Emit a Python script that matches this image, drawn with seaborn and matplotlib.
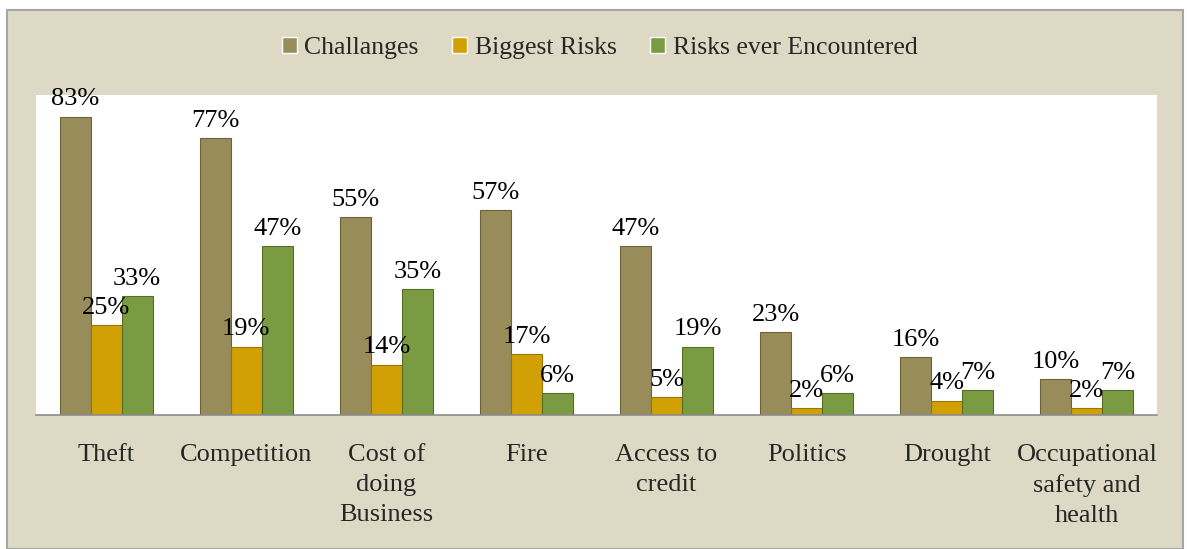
import numpy as np
import pandas as pd
import seaborn as sns
from matplotlib import pyplot as plt
from matplotlib.patches import Rectangle

# %% Data

Categories = ['Theft', 'Competition', 'Cost of\ndoing\nBusiness', 'Fire',
              'Access to\ncredit', 'Politics', 'Drought',
              'Occupational\nsafety and\nhealth']
Challanges = [83, 77, 55, 57, 47, 23, 16, 10]
BiggestRisks = [25, 19, 14, 17, 5, 2, 4, 2]
RisksEncountered = [33, 47, 35, 6, 19, 6, 7, 7]
SeriesNames = ['Challanges', 'Biggest Risks', 'Risks ever Encountered']

dfData = pd.DataFrame({'Category': Categories * 3,
                       'Series': np.repeat(SeriesNames, len(Categories)),
                       'Value': Challanges + BiggestRisks + RisksEncountered})

SeriesColors = {'Challanges': '#988d5a',
                'Biggest Risks': '#d0a005',
                'Risks ever Encountered': '#7b9b42'}
EdgeColors = ['#6b6338', '#9a7500', '#566e2a']
BgColor = '#ddd9c4'

# %% Plot

sns.set_style('white')
plt.rcParams['font.family'] = ['Liberation Serif', 'DejaVu Serif']

fig = plt.figure(figsize=(11.87, 5.49), dpi=100, facecolor='white')
fig.patches.append(Rectangle((7 / 1187, 0), 1176 / 1187, 539 / 549,
                             transform=fig.transFigure, facecolor=BgColor,
                             edgecolor='#a6a6a6', linewidth=1.5, zorder=-1))
ax = fig.add_axes([36 / 1187, 1 - 415 / 549, 1121 / 1187, 320 / 549])

sns.barplot(data=dfData, x='Category', y='Value', hue='Series',
            palette=SeriesColors, width=0.663, gap=0, ax=ax,
            saturation=1, legend=True)

for cont, ec in zip(ax.containers, EdgeColors):
    for bar in cont:
        bar.set_edgecolor(ec)
        bar.set_linewidth(0.8)
    ax.bar_label(cont, labels=[f'{v:.0f}%' for v in cont.datavalues],
                 padding=4.5, fontsize=19, color='black')

ax.set_ylim(0, 89)
ax.set_xlim(-0.5, len(Categories) - 0.5)
ax.set_xlabel('')
ax.set_ylabel('')
ax.set_yticks([])
ax.set_facecolor('white')
for s in ['top', 'left', 'right']:
    ax.spines[s].set_visible(False)
ax.spines['bottom'].set_color('#8c8c8c')
ax.spines['bottom'].set_linewidth(1.2)

ax.set_xticks(np.arange(len(Categories)))
ax.set_xticklabels(Categories, fontsize=19, linespacing=1.46)
ax.tick_params(axis='x', which='major', length=0, pad=21)
ax.set_xticks(np.arange(len(Categories) + 1) - 0.5, minor=True)
ax.tick_params(axis='x', which='minor', length=7, width=1.2,
               color='#8c8c8c', direction='out')
for lbl in ax.get_xticklabels():
    lbl.set_verticalalignment('top')

handles, labels = ax.get_legend_handles_labels()
ax.get_legend().remove()
fig.legend(handles, labels, loc='center', bbox_to_anchor=(0.505, 1 - 48 / 549),
           ncol=3, frameon=False, fontsize=18.5, handlelength=0.58,
           handleheight=0.58, handletextpad=0.3, columnspacing=1.3)

fig.savefig('out.png', dpi=100, facecolor=fig.get_facecolor())
